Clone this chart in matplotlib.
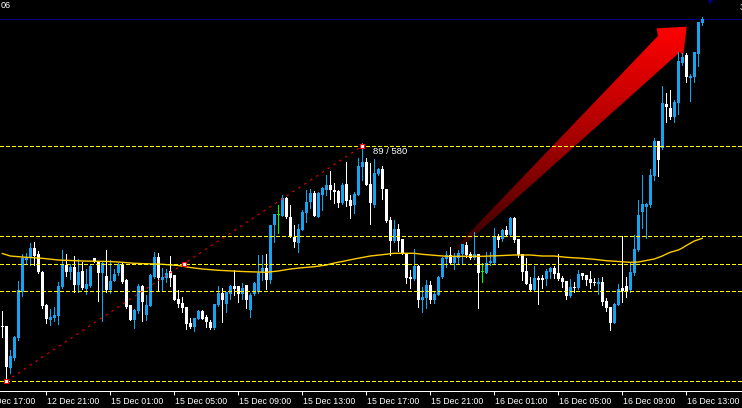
import numpy as np
import matplotlib
matplotlib.use("Agg")
import matplotlib.pyplot as plt
from matplotlib.patches import Polygon

plt.rcParams['font.family'] = ['Liberation Sans', 'DejaVu Sans']

# M15 bars, 12 Dec 18:15 -> 16 Dec 14:00 (price in points)
opens = [74, 74, 32, 42, 62, 108, 140, 143, 152, 146, 128, 95, 80, 82, 84, 113, 135, 128, 133, 115,
         129, 111, 114, 142, 138, 127, 124, 110, 119, 127, 135, 120, 95, 80, 89, 114, 85, 94, 123, 143,
         120, 122, 129, 125, 101, 97, 93, 77, 73, 81, 89, 83, 78, 72, 95, 107, 96, 106, 114, 114,
         106, 115, 90, 106, 108, 128, 132, 120, 175, 185, 184, 202, 183, 163, 157, 170, 187, 198, 207, 183,
         205, 210, 215, 210, 209, 197, 216, 200, 195, 205, 233, 238, 216, 195, 226, 231, 211, 180, 159, 171,
         161, 147, 123, 121, 134, 100, 102, 115, 100, 105, 123, 141, 145, 137, 142, 146, 155, 146, 142, 146,
         128, 127, 137, 137, 164, 161, 170, 165, 182, 161, 146, 129, 116, 110, 122, 122, 121, 128, 132, 127,
         122, 119, 104, 113, 112, 127, 125, 121, 118, 116, 118, 99, 93, 77, 95, 112, 114, 110, 127, 150,
         188, 193, 195, 224, 259, 252, 296, 292, 283, 297, 337, 345, 322, 323, 346, 377]
highs = [89, 74, 50, 64, 119, 146, 147, 157, 158, 149, 129, 96, 91, 93, 118, 150, 146, 136, 144, 141,
         138, 131, 135, 142, 139, 138, 150, 140, 131, 137, 138, 121, 95, 91, 116, 115, 105, 126, 148, 147,
         132, 131, 144, 125, 110, 103, 93, 82, 82, 90, 90, 85, 80, 96, 114, 112, 108, 115, 130, 114,
         117, 115, 107, 118, 145, 145, 146, 175, 186, 195, 205, 203, 195, 175, 176, 190, 210, 211, 209, 208,
         213, 225, 229, 217, 210, 217, 238, 205, 208, 242, 257, 242, 237, 241, 232, 234, 211, 183, 180, 176,
         161, 147, 130, 151, 135, 113, 120, 119, 108, 124, 143, 149, 153, 147, 150, 156, 158, 148, 168, 146,
         137, 148, 148, 172, 166, 171, 174, 183, 183, 161, 146, 142, 123, 134, 124, 125, 131, 133, 134, 146,
         124, 119, 121, 118, 130, 127, 125, 129, 122, 122, 123, 102, 93, 97, 116, 164, 123, 137, 165, 200,
         225, 197, 231, 262, 259, 314, 307, 310, 300, 348, 347, 347, 326, 348, 378, 383]
lows = [63, 20, 27, 40, 60, 104, 137, 135, 135, 127, 92, 77, 75, 79, 76, 112, 124, 121, 108, 108,
        111, 106, 113, 138, 99, 79, 108, 107, 119, 125, 117, 92, 80, 72, 87, 79, 80, 94, 122, 109,
        109, 118, 114, 100, 93, 88, 71, 72, 69, 81, 81, 73, 71, 71, 94, 78, 88, 101, 105, 98,
        101, 92, 83, 105, 107, 120, 111, 117, 158, 167, 184, 182, 163, 153, 148, 170, 178, 192, 184, 183,
        190, 205, 201, 197, 193, 196, 194, 182, 187, 205, 220, 215, 176, 193, 225, 201, 178, 145, 158, 149,
        146, 117, 112, 120, 93, 88, 92, 97, 97, 105, 122, 133, 137, 131, 137, 137, 143, 141, 141, 92,
        118, 127, 135, 137, 153, 159, 165, 165, 158, 143, 120, 116, 109, 109, 96, 112, 115, 122, 122, 120,
        113, 101, 103, 108, 111, 121, 115, 112, 115, 106, 95, 89, 70, 77, 95, 98, 103, 108, 125, 149,
        172, 162, 193, 220, 224, 251, 278, 281, 278, 286, 335, 318, 299, 318, 334, 375]
closes = [73, 33, 44, 63, 110, 142, 143, 152, 144, 128, 94, 81, 83, 85, 114, 135, 128, 133, 115, 128,
          112, 116, 134, 138, 127, 137, 110, 119, 126, 136, 118, 93, 80, 90, 114, 98, 95, 125, 143, 122,
          123, 127, 122, 100, 96, 92, 76, 73, 82, 89, 81, 78, 72, 96, 107, 100, 108, 114, 111, 106,
          112, 100, 105, 117, 127, 132, 120, 175, 186, 185, 202, 183, 163, 158, 171, 188, 198, 207, 184, 207,
          212, 215, 210, 208, 197, 215, 199, 194, 206, 234, 238, 215, 197, 227, 231, 211, 179, 159, 171, 159,
          147, 122, 121, 134, 100, 103, 115, 100, 106, 123, 142, 145, 137, 143, 147, 156, 145, 142, 146, 127,
          128, 137, 139, 163, 160, 170, 165, 182, 160, 145, 128, 116, 110, 122, 120, 120, 129, 132, 126, 121,
          118, 104, 113, 112, 126, 124, 120, 117, 117, 118, 98, 92, 77, 96, 111, 109, 109, 128, 151, 185,
          196, 196, 225, 259, 240, 297, 293, 283, 298, 339, 343, 323, 324, 348, 378, 381]

# moving average (bar index, value)
ma_bar = [0, 2, 5, 10, 14, 20, 27, 30, 33, 40, 44, 47, 50, 54, 60, 66, 69, 72, 75, 78, 81, 83, 85, 88,
          90, 92, 95, 98, 103, 105, 108, 111, 120, 124, 128, 132, 135, 138, 141, 145, 148, 151, 154,
          157, 159, 161, 163, 164, 165, 166, 167, 169, 170, 171, 172, 173, 175]
ma_val = [146.5, 144, 143, 141.7, 140, 139, 138.5, 137.7, 136.7, 135.7, 134.5, 132.5, 131, 129.7, 128.5,
          127.7, 129, 131, 132.3, 133.3, 135, 137, 138.5, 141, 142.5, 144, 145.3, 146.7, 146.7, 145.7,
          144.7, 143.7, 143.7, 144.3, 145, 145, 144, 144, 142.7, 141.7, 140.7, 139.3, 138.5, 137.7, 138,
          139.5, 141, 142.5, 144, 146, 147.7, 150, 152, 154.5, 156.7, 159, 161.7]

# fibonacci retracement anchors
fib_bars = [1, 90]
fib_prices = [19, 254]
fib_ratios = [0.0, 0.382, 0.5, 0.618, 1.0]
fib_label = "89 / 580"

# arrow outline (bar index, price)
arrow_k = [112.9, 163.9, 163.6, 171.1, 170.2, 169.4, 114.4]
arrow_p = [151, 364, 371.7, 373.3, 343.3, 348, 151]

tick_bars = [-5, 11, 27, 43, 59, 75, 91, 107, 123, 139, 155, 171]
tick_labels = ["12 Dec 17:00", "12 Dec 21:00", "15 Dec 01:00", "15 Dec 05:00", "15 Dec 09:00",
               "15 Dec 13:00", "15 Dec 17:00", "15 Dec 21:00", "16 Dec 01:00", "16 Dec 05:00",
               "16 Dec 09:00", "16 Dec 13:00"]

BLUE = '#14A5F0'
px = 0.72  # one pixel in points
thin = 0.5  # for aliased 1-pixel lines

fig = plt.figure(figsize=(7.42, 4.08), dpi=100, facecolor='black')
ax = fig.add_axes([0, 17 / 408, 1, 391 / 408])
ax.set_facecolor('black')

o = np.array(opens); h = np.array(highs); l = np.array(lows); c = np.array(closes)
idx = np.arange(len(o))

# gradient arrow
poly = Polygon(np.column_stack([arrow_k, arrow_p]), closed=True, facecolor='none', edgecolor='none')
ax.add_patch(poly)
t = np.linspace(0, 1, 256)
shade = (35 + 220 * t ** 0.75) / 255
grad = np.zeros((256, 1, 3))
grad[:, 0, 0] = shade
im = ax.imshow(grad, extent=[min(arrow_k), max(arrow_k), min(arrow_p), max(arrow_p)],
               origin='lower', aspect='auto', zorder=1, interpolation='bilinear')
im.set_clip_path(poly)

# candles
cols = np.where(c > o, BLUE, np.where(c < o, 'white', '#00FF00'))
ax.vlines(idx, l, h, colors=cols, linewidth=thin, zorder=3, antialiased=False)
body = np.maximum(np.abs(c - o), 1)
ax.bar(idx, body, bottom=np.minimum(o, c), width=0.75, color=cols, linewidth=0,
       zorder=3, antialiased=False)

# moving average
ax.plot(ma_bar, ma_val, color='#FFCC00', linewidth=1.0, zorder=4)

# current price line
ax.axhline(c[-1], color='#000080', linewidth=thin, zorder=2, antialiased=False)

# fibonacci levels
lo, hi = fib_prices
for r in fib_ratios:
    ax.axhline(round(lo + r * (hi - lo)), color='#FFFF00', linewidth=thin,
               linestyle=(0, (5.5, 4)), zorder=5, antialiased=False)
ax.plot(fib_bars, fib_prices, color='red', linewidth=px, linestyle=(0, (2.5, 4.5)), zorder=6)
ax.plot(fib_bars + [np.mean(fib_bars)], fib_prices + [np.mean(fib_prices)], linestyle='none',
        marker='s', markersize=3, markerfacecolor='white', markeredgecolor='red',
        markeredgewidth=0.8, zorder=7)
ax.text(fib_bars[1] + 2.7, hi - 5.5, fib_label, color='white', fontsize=6.8,
        ha='left', va='center', zorder=8)

# chart shift marker
ax.plot([177], [1.0], marker='v', color='#000080', markersize=4,
        transform=ax.get_xaxis_transform(), clip_on=False, zorder=8)

ax.set_xlim(-0.575, 184.925)
ax.set_ylim(9, 400)

for s in ['top', 'left', 'right']:
    ax.spines[s].set_visible(False)
ax.spines['bottom'].set_color('white')
ax.spines['bottom'].set_linewidth(px)
ax.set_yticks([])
ax.set_xticks([b for b in tick_bars if b >= 0])
ax.set_xticklabels([])
ax.tick_params(axis='x', colors='white', length=3, width=px, direction='out')
for b, lab in zip(tick_bars, tick_labels):
    ax.text(b + 0.2, -6 / 391, lab, color='white', fontsize=6.3, ha='left', va='top',
            transform=ax.get_xaxis_transform(), clip_on=False)

fig.text(0.5 / 742, 1 - 1 / 408, "06", color='white', fontsize=6.5, ha='left', va='top')
fig.text(739.5 / 742, 1 - 3 / 408, "3", color='white', fontsize=6.5, ha='left', va='top')

fig.savefig('out.png', dpi=100, facecolor='black')
